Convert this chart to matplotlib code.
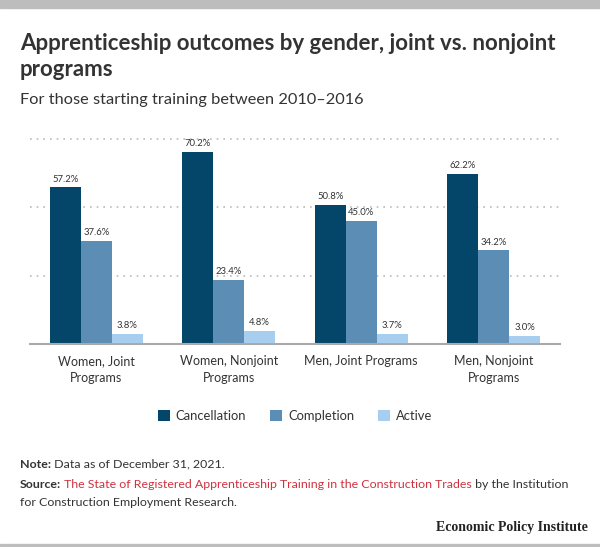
import matplotlib.pyplot as plt
import numpy as np

# data
groups = ['Women, Joint\nPrograms', 'Women, Nonjoint\nPrograms', 'Men, Joint Programs', 'Men, Nonjoint\nPrograms']
series = ['Cancellation', 'Completion', 'Active']
cancellation = [57.2, 70.2, 50.8, 62.2]
completion = [37.6, 23.4, 45.0, 34.2]
active = [3.8, 4.8, 3.7, 3.0]
colors = ['#03466a', '#5b8db5', '#a8ceef']

plt.rcParams['font.family'] = ['Lato', 'DejaVu Sans']

fig = plt.figure(figsize=(6, 5.47), dpi=100)
W, H = 600, 547

def fx(px): return px / W
def fy(py): return 1 - py / H

# gray bars top and bottom
fig.patches.append(plt.Rectangle((0, fy(8)), 1, 8 / H, transform=fig.transFigure, color='#bdbdbd', zorder=0))
fig.patches.append(plt.Rectangle((0, 0), 1, 3.5 / H, transform=fig.transFigure, color='#bdbdbd', zorder=0))

fig.text(fx(20), fy(44), 'Apprenticeship outcomes by gender, joint vs. nonjoint', fontsize=16,
         fontweight='bold', color='#333333', va='center')
fig.text(fx(20), fy(69), 'programs', fontsize=16, fontweight='bold', color='#333333', va='center')
fig.text(fx(20), fy(100), 'For those starting training between 2010\u20132016', fontsize=11.8,
         color='#333333', va='center')

ax = fig.add_axes([fx(30), fy(344), fx(560) - fx(30), (344 - 137) / H * 75 / 75.3])
x = np.arange(len(groups))
w = 0.233
for i, (vals, c) in enumerate(zip([cancellation, completion, active], colors)):
    pos = x + (i - 1) * w
    ax.bar(pos, vals, width=w, color=c, label=series[i], zorder=3)
    for p, v in zip(pos, vals):
        ax.text(p, v + 1.3, f'{v:.1f}%', ha='center', va='bottom', fontsize=6.8, color='#333333')

ax.set_xlim(-0.5, 3.5)
ax.set_ylim(0, 75.3)
ax.set_yticks([25, 50, 75])
ax.yaxis.grid(True, linestyle=(0, (1, 3)), color='#bbbbbb', linewidth=1.2, zorder=0)
ax.tick_params(axis='y', left=False, labelleft=False)
ax.tick_params(axis='x', length=0, pad=8, labelsize=9, labelcolor='#333333')
ax.set_xticks(x)
ax.set_xticklabels(groups, linespacing=1.45)
for s in ['top', 'right', 'left']:
    ax.spines[s].set_visible(False)
ax.spines['bottom'].set_color('#aaaaaa')
ax.spines['bottom'].set_linewidth(1.5)
ax.spines['bottom'].set_zorder(4)

leg = fig.legend(loc='center', bbox_to_anchor=(fx(295), fy(416)), ncol=3, frameon=False,
                 fontsize=9.4, handlelength=0.95, handleheight=0.95, columnspacing=1.8,
                 handletextpad=0.45)
for t in leg.get_texts():
    t.set_color('#333333')

# note and source with mixed styles
fig.canvas.draw()
r = fig.canvas.get_renderer()
fs = 8.9

def run(parts, px, py):
    xx = fx(px)
    for txt, kw in parts:
        t = fig.text(xx, fy(py), txt, fontsize=fs, va='center', **kw)
        bb = t.get_window_extent(renderer=r)
        xx += bb.width / W

run([('Note:', dict(fontweight='bold', color='#333333')),
     (' Data as of December 31, 2021.', dict(color='#333333'))], 20, 464)
run([('Source:', dict(fontweight='bold', color='#333333')),
     (' The State of Registered Apprenticeship Training in the Construction Trades', dict(color='#d0323f')),
     (' by the Institution', dict(color='#333333'))], 20, 485)
fig.text(fx(20), fy(502), 'for Construction Employment Research.', fontsize=fs, va='center', color='#333333')

fig.text(fx(588), fy(527), 'Economic Policy Institute', fontsize=10, fontweight='bold',
         family=['Liberation Serif', 'DejaVu Serif'], ha='right', va='center', color='#222222')

fig.savefig('out.png', dpi=100)
